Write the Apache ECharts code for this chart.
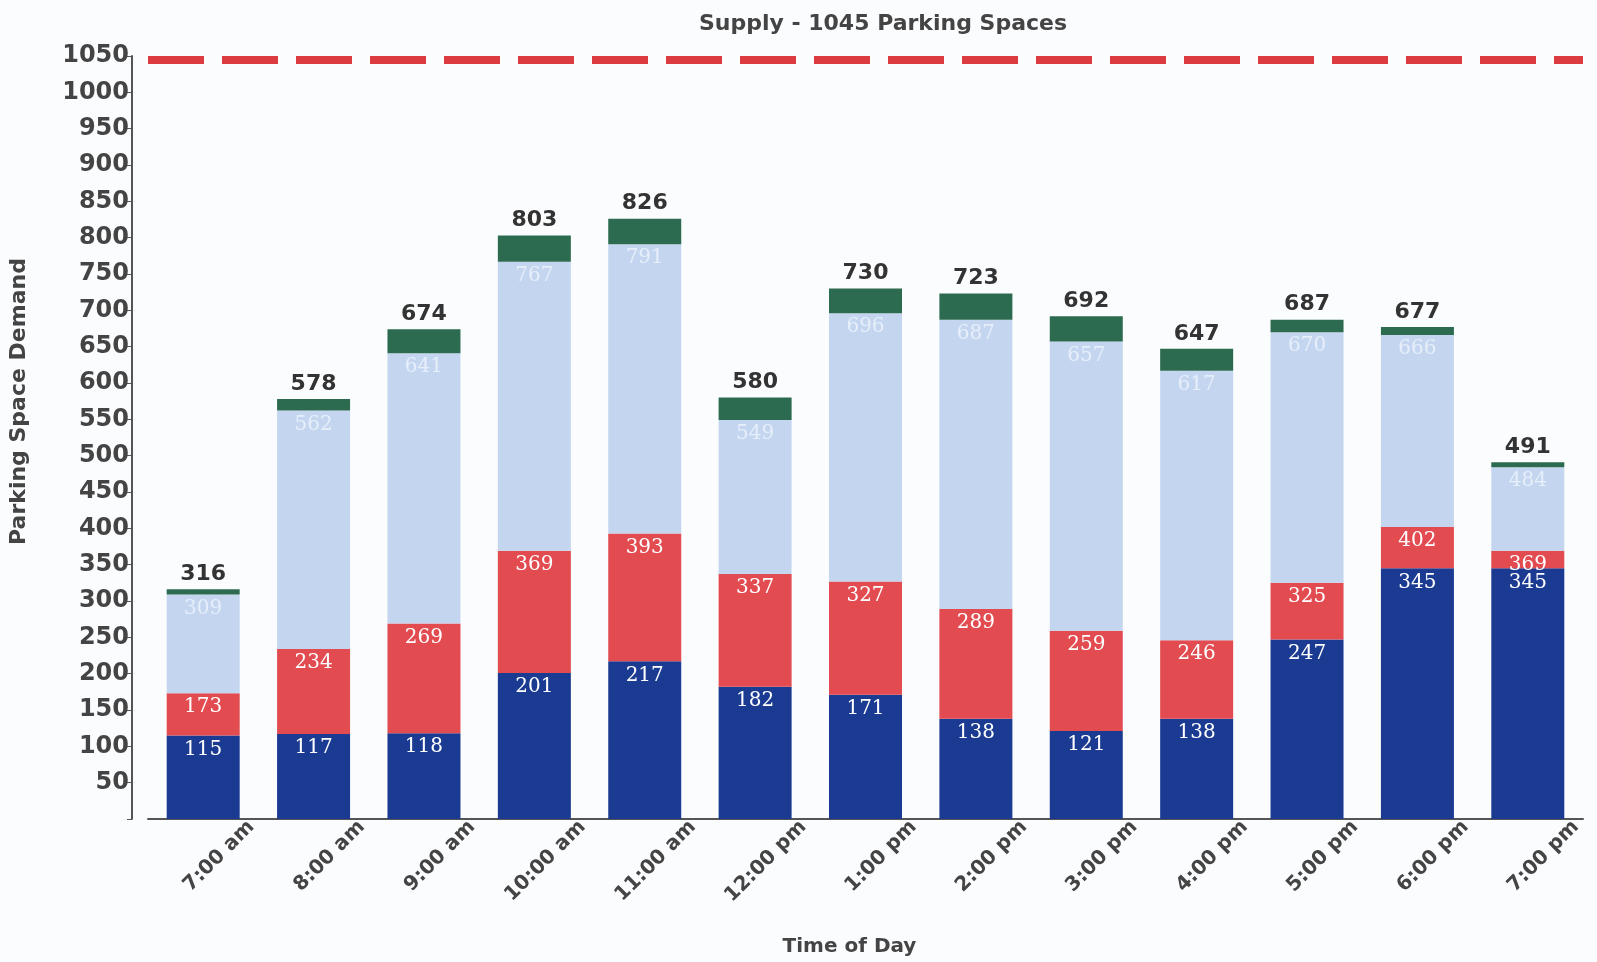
<!DOCTYPE html>
<html>
<head>
<meta charset="utf-8">
<script src="https://cdn.jsdelivr.net/npm/echarts@6/dist/echarts.min.js"></script>
<style>
  html, body { margin: 0; padding: 0; background: #fbfcfe; }
  #chart { width: 1597px; height: 962px; }
</style>
</head>
<body>
<div id="chart"></div>
<script>
// 数据（从图上读出，累计值）
var times = ['7:00 am', '8:00 am', '9:00 am', '10:00 am', '11:00 am', '12:00 pm', '1:00 pm', '2:00 pm', '3:00 pm', '4:00 pm', '5:00 pm', '6:00 pm', '7:00 pm'];
var blueCum = [115, 117, 118, 201, 217, 182, 171, 138, 121, 138, 247, 345, 345];
var redCum = [173, 234, 269, 369, 393, 337, 327, 289, 259, 246, 325, 402, 369];
var lightCum = [309, 562, 641, 767, 791, 549, 696, 687, 657, 617, 670, 666, 484];
var totals = [316, 578, 674, 803, 826, 580, 730, 723, 692, 647, 687, 677, 491];
var supply = 1045;

function diff(a, b) {
  return a.map(function (v, i) { return v - b[i]; });
}

var labelFont = 'DejaVu Serif';
var sansFont = 'DejaVu Sans, sans-serif';

function inLabel(cum, color) {
  return {
    show: true,
    position: 'insideTop',
    distance: 4,
    color: color,
    fontFamily: labelFont,
    fontSize: 20,
    formatter: function (p) { return cum[p.dataIndex]; }
  };
}

var chart = echarts.init(document.getElementById('chart'));

var option = {
  backgroundColor: '#fbfcfe',
  animation: false,
  title: {
    text: 'Supply - ' + supply + ' Parking Spaces',
    left: 878,
    top: 8,
    textAlign: 'center',
    textStyle: { color: '#444', fontFamily: sansFont, fontSize: 22, fontWeight: 'bold' }
  },
  grid: { left: 145, right: 14, top: 56, bottom: 143 },
  xAxis: [
    {
      type: 'category',
      data: times,
      name: 'Time of Day',
      nameLocation: 'middle',
      nameGap: 118,
      nameTextStyle: { color: '#444', fontFamily: sansFont, fontSize: 20, fontWeight: 'bold', padding: [0, 32, 0, 0] },
      axisLine: { lineStyle: { color: '#555', width: 2 } },
      axisTick: { show: false },
      axisLabel: { show: false }
    },
    {
      // 标签放在每根柱子的右边界处（与原图一致）
      type: 'category',
      data: [''].concat(times),
      boundaryGap: false,
      position: 'bottom',
      axisLine: { show: false },
      axisTick: { show: false },
      axisLabel: {
        rotate: 45,
        interval: 0,
        color: '#444',
        fontFamily: sansFont,
        fontSize: 20,
        fontWeight: 'bold',
        verticalAlign: 'bottom',
        margin: 12
      }
    }
  ],
  yAxis: {
    type: 'value',
    min: 0,
    max: 1050,
    interval: 50,
    offset: 16,
    name: 'Parking Space Demand',
    nameLocation: 'middle',
    nameGap: 102,
    nameTextStyle: { color: '#444', fontFamily: sansFont, fontSize: 22, fontWeight: 'bold', padding: [0, 0, 0, 72] },
    axisLine: { show: true, lineStyle: { color: '#555', width: 2 } },
    axisTick: { show: true, length: 5, lineStyle: { color: '#555' } },
    splitLine: { show: false },
    axisLabel: {
      color: '#444',
      fontFamily: sansFont,
      fontSize: 24,
      fontWeight: 'bold',
      margin: 3,
      formatter: function (v) { return v === 0 ? '' : v; }
    }
  },
  series: [
    {
      name: 'blue',
      type: 'bar',
      stack: 'demand',
      barWidth: 73,
      data: blueCum,
      itemStyle: { color: '#1b3b92' },
      label: inLabel(blueCum, '#ffffff'),
      markLine: {
        symbol: 'none',
        silent: true,
        label: { show: false },
        lineStyle: { color: '#dc3b40', width: 8, type: [56, 18] },
        data: [{ yAxis: supply }]
      }
    },
    {
      name: 'red',
      type: 'bar',
      stack: 'demand',
      data: diff(redCum, blueCum),
      itemStyle: { color: '#e24b50' },
      label: inLabel(redCum, '#ffffff')
    },
    {
      name: 'lightblue',
      type: 'bar',
      stack: 'demand',
      data: diff(lightCum, redCum),
      itemStyle: { color: '#c4d6ef' },
      label: inLabel(lightCum, '#e6eefa')
    },
    {
      name: 'green',
      type: 'bar',
      stack: 'demand',
      data: diff(totals, lightCum),
      itemStyle: { color: '#2c6b4f' },
      label: {
        show: true,
        position: 'top',
        distance: 4,
        color: '#333',
        fontFamily: sansFont,
        fontSize: 22,
        fontWeight: 'bold',
        formatter: function (p) { return totals[p.dataIndex]; }
      }
    }
  ]
};

chart.setOption(option);
</script>
</body>
</html>
